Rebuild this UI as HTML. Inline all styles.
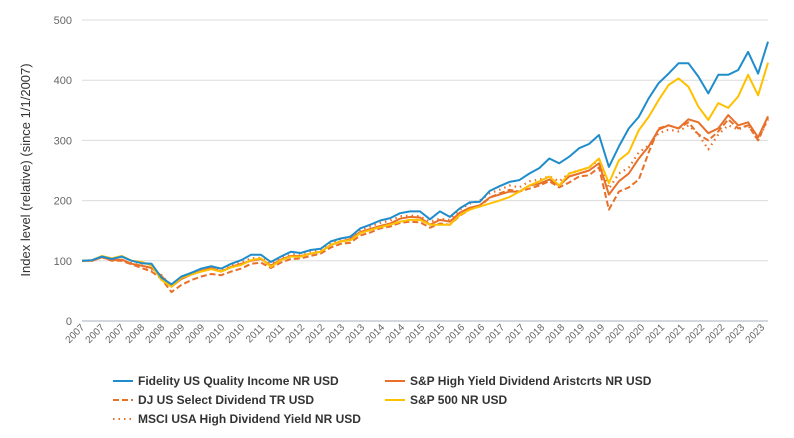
<!DOCTYPE html>
<html><head><meta charset="utf-8"><style>
body{margin:0;background:#fff;font-family:"Liberation Sans",Arial,sans-serif}
svg{display:block}
</style></head><body>
<svg id="chart" width="794" height="438"></svg>
<script>
const xLabels=["2007","2007","2007","2008","2008","2009","2009","2010","2010","2011","2011","2012","2012","2013","2013","2014","2014","2015","2015","2016","2016","2017","2017","2018","2018","2019","2019","2020","2020","2021","2021","2022","2022","2023","2023"];
const yTicks=[0,100,200,300,400,500];
const fidelity=[100,101,107,103,107,100,96,95,72,61,74,80,87,91,87,95,101,110,110,98,107,115,113,118,120,132,137,140,154,160,167,171,179,182,182,169,182,173,187,197,198,216,224,231,234,245,254,270,262,273,287,294,309,256,290,320,339,370,395,411,428,428,406,378,409,409,417,447,411,464];
const sp500=[100,101,108,104,108,100,98,92,68,57,72,77,82,86,82,89,93,101,104,90,101,107,107,112,115,126,132,134,146,151,156,160,165,168,168,160,160,160,176,185,190,195,200,206,215,225,232,240,225,245,250,255,270,229,267,280,317,339,367,392,403,389,356,334,362,354,373,409,375,429];
const aristocrats=[100,100,106,101,102,95,92,88,75,57,70,77,83,88,82,90,95,100,103,92,102,108,108,112,115,126,132,136,148,153,158,162,170,173,172,160,168,165,180,188,192,205,210,215,215,225,228,235,225,240,245,250,262,210,232,245,270,290,318,325,320,335,330,312,320,342,325,330,305,340];
const djSelect=[100,100,106,100,100,94,88,82,70,48,60,68,74,78,76,82,87,95,97,88,97,103,104,108,112,122,128,130,142,147,154,157,163,165,164,155,162,160,175,185,190,205,212,218,215,220,225,232,222,230,240,242,255,185,215,222,235,280,320,325,320,330,310,300,315,335,320,325,300,338];
const msci=[100,100,106,102,100,96,92,86,76,58,72,80,85,89,85,92,97,104,105,95,104,110,112,116,118,130,136,140,152,157,163,167,174,175,174,165,170,168,185,195,200,212,218,225,222,232,235,240,232,245,250,255,268,220,245,255,280,292,312,318,315,325,310,285,310,325,318,325,300,335];

const svg=document.getElementById('chart');
const NS='http://www.w3.org/2000/svg';
const X0=82,X1=768,Y0=321,Y1=20;
const yScale=v=>Y0-(v/500)*(Y0-Y1);
const xScale=(i,n)=>X0+i*(X1-X0)/(n-1);
function mk(tag,attrs,parent){const e=document.createElementNS(NS,tag);for(const k in attrs)e.setAttribute(k,attrs[k]);(parent||svg).appendChild(e);return e;}

yTicks.forEach(t=>{
  const y=yScale(t);
  const g=mk('line',{x1:X0,x2:X1,y1:y,y2:y,stroke:t===0?'#a8b0bd':'#dcdcdc','stroke-width':1});
  
  
  const tx=mk('text',{x:72,y:y+4,'text-anchor':'end','font-size':11,fill:'#666'});
  tx.textContent=t;
  
  
});
const yt=mk('text',{x:0,y:0,transform:'translate(30,170) rotate(-90)','text-anchor':'middle','font-size':13,fill:'#333'});
yt.textContent='Index level (relative) (since 1/1/2007)';



xLabels.forEach((l,i)=>{
  const x=X0+3+i*(X1-X0-6)/(xLabels.length-1);
  const t=mk('text',{x:0,y:0,transform:`translate(${x},328) rotate(-45)`,'text-anchor':'end','font-size':10,fill:'#666'});
  t.textContent=l;
  
  
});

const series=[
 {name:'msci-line',data:msci,color:'#e8702a',dash:'1.5 4',w:2.2},
 {name:'dj-select-line',data:djSelect,color:'#e8702a',dash:'6 3',w:2},
 {name:'aristocrats-line',data:aristocrats,color:'#e8702a',dash:'',w:2},
 {name:'sp500-line',data:sp500,color:'#ffc000',dash:'',w:2},
 {name:'fidelity-line',data:fidelity,color:'#1f8dcb',dash:'',w:2}
];
series.forEach(s=>{
  const d=s.data.map((v,i)=>(i?'L':'M')+xScale(i,s.data.length).toFixed(1)+','+yScale(v).toFixed(1)).join('');
  const p=mk('path',{d:d,fill:'none',stroke:s.color,'stroke-width':s.w,'stroke-dasharray':s.dash,'stroke-linejoin':'round'});
  
  
});

const legend=[
 {label:'Fidelity US Quality Income NR USD',color:'#1f8dcb',dash:'',x:113,y:381},
 {label:'S&P High Yield Dividend Aristcrts NR USD',color:'#e8702a',dash:'',x:385,y:381},
 {label:'DJ US Select Dividend TR USD',color:'#e8702a',dash:'6 3',x:113,y:400},
 {label:'S&P 500 NR USD',color:'#ffc000',dash:'',x:385,y:400},
 {label:'MSCI USA High Dividend Yield NR USD',color:'#e8702a',dash:'1.5 4',x:113,y:419}
];
legend.forEach(l=>{
  const g=mk('g',{});
  
  
  mk('line',{x1:l.x,x2:l.x+20,y1:l.y,y2:l.y,stroke:l.color,'stroke-width':2,'stroke-dasharray':l.dash},g);
  const t=mk('text',{x:l.x+25,y:l.y+4,'font-size':12,'font-weight':'bold',fill:'#333'},g);
  t.textContent=l.label;
});
</script>
</body></html>
